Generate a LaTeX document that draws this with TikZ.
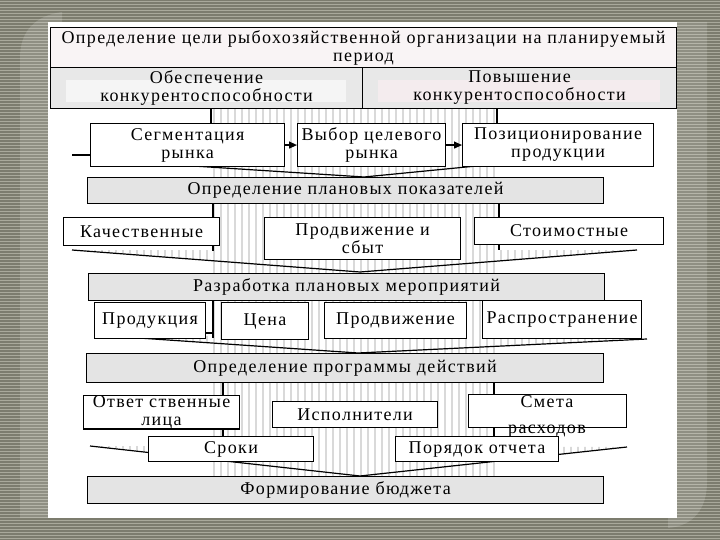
\documentclass[tikz,border=0pt]{standalone}
\usepackage{fontspec}
\setmainfont{Liberation Serif}[LetterSpace=7.5]
\usetikzlibrary{arrows.meta}
\definecolor{bgdark}{HTML}{7C7C6E}
\definecolor{bglight}{HTML}{A9A99B}
\definecolor{barfill}{HTML}{E4E4E4}
\definecolor{cellfill}{HTML}{E8E8E8}
\definecolor{stripecol}{HTML}{D9D9D9}
\definecolor{titlefill}{HTML}{F9F4F5}
\definecolor{pinkband}{HTML}{F4ECEE}
\newcommand\mkbox[7]{\node[#1, anchor=north west, minimum width={#5-#3}, minimum height={#6-#4}] (#2) at (#3,#4) {#7};}
\newcommand\stripesin[1]{\begin{scope}\clip #1; \foreach \sx in {60,67,...,670} \draw[stripecol, line width=2pt] (\sx,100) -- (\sx,480);\end{scope}}
\begin{document}
\begin{tikzpicture}[x=1pt,y=-1pt,
  every node/.style={font=\fontsize{18}{18}\selectfont, inner sep=0pt, align=center},
  box/.style={draw=black, line width=1.1pt, fill=white, rectangle},
  bar/.style={box, fill=barfill},
  cell/.style={box, fill=cellfill},
  ttl/.style={box, fill=titlefill},
  plain/.style={rectangle, inner sep=0pt},
  edge/.style={black, line width=1.2pt},
  funnel/.style={black, line width=1.2pt}]
\useasboundingbox (0,0) rectangle (720,540);
% background
\fill[bglight] (0,0) rectangle (720,540);
\foreach \yy in {0,3,...,540} \draw[bgdark, line width=1.2pt] (0,\yy) -- (720,\yy);
\fill[white, opacity=0.15] (20,518) -- (20,58) .. controls (20,32) and (34,16) .. (62,12) -- (62,22) -- (48,22) -- (48,518) -- cycle;
\fill[white, opacity=0.15] (677,22) -- (707,22) -- (707,482) .. controls (707,508) and (694,526) .. (668,528) -- (668,518) -- (677,518) -- cycle;
\fill[white] (48,22) rectangle (677,518);
% funnel coordinates
\coordinate (f1l) at (100,160); \coordinate (f1a) at (364,177); \coordinate (f1r) at (640,150);
\coordinate (f2l) at (72,250);  \coordinate (f2a) at (360,272); \coordinate (f2r) at (637,250);
\coordinate (f3l) at (95,335);  \coordinate (f3a) at (358,353); \coordinate (f3r) at (647,339);
\coordinate (f4l) at (90,446);  \coordinate (f4a) at (360,476); \coordinate (f4r) at (627,447);
% stripes of the big arrow
\stripesin{(212,108) rectangle (497,476)}
\stripesin{(f1l) -- (f1a) -- (f1r) -- cycle}
\stripesin{(f2l) -- (f2a) -- (f2r) -- cycle}
\stripesin{(f3l) -- (f3a) -- (f3r) -- cycle}
\stripesin{(f4l) -- (f4a) -- (f4r) -- cycle}
% funnel lines
\draw[funnel] (f1l) -- (f1a) -- (f1r);
\draw[funnel] (f2l) -- (f2a) -- (f2r);
\draw[funnel] (f3l) -- (f3a) -- (f3r);
\draw[funnel] (f4l) -- (f4a) -- (f4r);
% edge lines of the band
\coordinate (e1l) at (211,108); \coordinate (e1r) at (497,108);
\coordinate (e2l) at (213,203); \coordinate (e2r) at (499,203);
\coordinate (e3l) at (213,300); \coordinate (e3b) at (213,338); \coordinate (e3t) at (205,333);
\coordinate (e4l) at (223,382); \coordinate (e4r) at (494,382);
\coordinate (e2lb) at (213,251); \coordinate (e2rb) at (499,250);
\coordinate (e4lb) at (223,437); \coordinate (e4rb) at (494,437);
\draw[edge] (e1l) -- (211,124);
\draw[edge] (e1r) -- (497,124);
\draw[edge] (e2l) -- (e2lb);
\draw[edge] (e2r) -- (e2rb);
\draw[edge] (e3l) -- (e3b);
\draw[edge] (e3t) -- (e3t -| e3l);
\draw[edge] (e4l) -- (e4lb);
\draw[edge] (e4r) -- (e4rb);
% top block
\mkbox{ttl}{title}{50}{27}{676}{67}{Определение цели рыбохозяйственной организации на планируемый\\период}
\mkbox{cell}{cellL}{50}{67}{362}{108}{}
\mkbox{cell}{cellR}{362}{67}{676}{108}{}
\fill[white, opacity=0.6] (66,80) rectangle (346,102);
\fill[pinkband] (378,80) rectangle (660,102);
\node (cellLt) at (cellL) {Обеспечение\\конкурентоспособности};
\node (cellRt) at (cellR) {Повышение\\конкурентоспособности};
% row 2
\mkbox{box}{seg}{90}{123}{284}{166}{Сегментация\\рынка}
\mkbox{box}{vyb}{297}{123}{445}{166}{Выбор целевого\\рынка}
\mkbox{box}{poz}{462}{123}{653}{166}{Позиционирование\\продукции}
\coordinate (stub) at (72,155);
\draw[line width=1.8pt] (stub) -- (stub -| seg.west);
\draw[line width=1.2pt, -{Triangle[length=8pt,width=7pt]}] (seg.east) -- (vyb.west);
\draw[line width=1.2pt, -{Triangle[length=8pt,width=7pt]}] (vyb.east) -- (poz.west);
\mkbox{bar}{bar1}{87}{177}{603}{203}{Определение плановых показателей}
% row 3
\mkbox{box}{kach}{63}{217}{219}{245}{Качественные}
\mkbox{box}{prod}{264}{217}{460}{259}{Продвижение и\\сбыт}
\mkbox{box}{stoim}{474}{217}{663}{244}{Стоимостные}
\mkbox{bar}{bar2}{88}{273}{604}{300}{Разработка плановых мероприятий}
% row 4
\mkbox{box}{prk}{94}{302}{205}{338}{Продукция}
\mkbox{box}{cena}{221}{302}{308}{339}{Цена}
\mkbox{box}{prodv}{324}{302}{466}{338}{Продвижение}
\mkbox{box}{rasp}{482}{300}{641}{338}{Распространение}
\mkbox{bar}{bar3}{86}{353}{603}{382}{Определение программы действий}
% row 5
\mkbox{box}{otv}{83}{395}{239}{427}{Ответ ственные\\лица}
\mkbox{box}{isp}{272}{401}{437}{427}{Исполнители}
\mkbox{box}{smeta}{468}{394}{626}{427}{}
\node[plain, font=\fontsize{18}{26}\selectfont] (smetat) at (547,416) {Смета\\расходов};
% row 6
\mkbox{box}{sroki}{148}{436}{313}{461}{Сроки}
\mkbox{box}{por}{395}{436}{558}{461}{Порядок отчета}
\mkbox{bar}{bar4}{87}{476}{603}{503}{Формирование бюджета}
\end{tikzpicture}
\end{document}
